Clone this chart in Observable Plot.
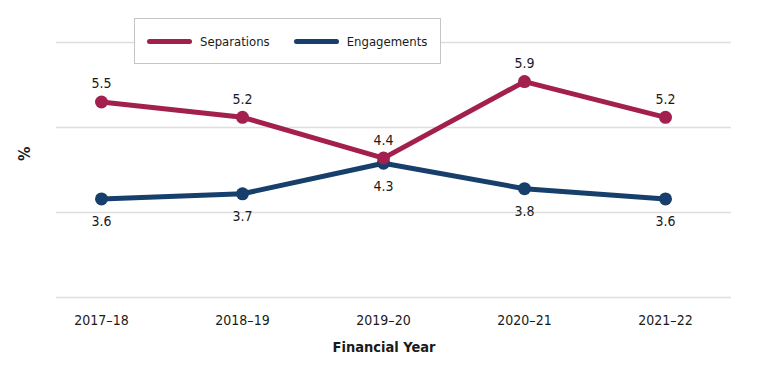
<!DOCTYPE html>
<html>
<head>
<meta charset="utf-8">
<script src="https://cdn.jsdelivr.net/npm/d3@7"></script>
<script src="https://cdn.jsdelivr.net/npm/@observablehq/plot@0.6"></script>
<style>
  html, body { margin: 0; padding: 0; background: #fff; }
  #wrap { position: relative; width: 768px; height: 391px; font-family: "Liberation Sans Narrow", "Arial Narrow", "DejaVu Sans Condensed", sans-serif; color: #1a1a1a; }
  #legend { position: absolute; left: 134px; top: 18px; width: 307px; height: 46px; border: 1px solid #c4c4c4; background: #fff; display: flex; align-items: center; padding-left: 12px; box-sizing: border-box; font-size: 13px; }
  .item { display: flex; align-items: center; margin-right: 24px; }
  .sw { width: 45px; height: 5px; border-radius: 3px; margin-right: 8px; }
</style>
</head>
<body>
<div id="wrap"></div>
<script>
const years = ["2017–18", "2018–19", "2019–20", "2020–21", "2021–22"];
const separations = [5.5, 5.2, 4.4, 5.9, 5.2];
const engagements = [3.6, 3.7, 4.3, 3.8, 3.6];
const seriesNames = ["Separations", "Engagements"];
const seriesColors = ["#a3204e", "#173f6b"];
const yGrid = [5 / 3, 10 / 3, 5, 20 / 3];
const xTitle = "Financial Year";
const yTitle = "%";

const sepRows = years.map((year, i) => ({ year, series: seriesNames[0], value: separations[i] }));
const engRows = years.map((year, i) => ({ year, series: seriesNames[1], value: engagements[i] }));

const font = '"Liberation Sans Narrow", "Arial Narrow", "DejaVu Sans Condensed", sans-serif';

const chart = Plot.plot({
  width: 768,
  height: 391,
  marginTop: 42,
  marginBottom: 94,
  marginLeft: 56,
  marginRight: 37,
  style: { fontFamily: font, fontSize: "14px", color: "#1a1a1a", background: "#fff", overflow: "visible" },
  x: { type: "point", domain: years, range: [100, 666], padding: 0, label: null, tickSize: 0, tickPadding: 18 },
  y: { domain: [yGrid[0], yGrid[yGrid.length - 1]], axis: null },
  color: { domain: seriesNames, range: seriesColors },
  marks: [
    Plot.ruleY(yGrid, { stroke: "#dedede", strokeWidth: 1.5 }),
    Plot.line(engRows, { x: "year", y: "value", stroke: "series", strokeWidth: 5 }),
    Plot.dot(engRows, { x: "year", y: "value", fill: "series", r: 6.5 }),
    Plot.line(sepRows, { x: "year", y: "value", stroke: "series", strokeWidth: 5 }),
    Plot.dot(sepRows, { x: "year", y: "value", fill: "series", r: 6.5 }),
    Plot.text(sepRows, { x: "year", y: "value", text: d => d.value.toFixed(1), dy: -18, fill: "#1a1a1a", fontSize: 14 }),
    Plot.text(engRows, { x: "year", y: "value", text: d => d.value.toFixed(1), dy: 23, fill: "#1a1a1a", fontSize: 14 }),
    Plot.text([yTitle], { frameAnchor: "left", dx: -32, dy: -9, rotate: -90, fontWeight: "bold", fontSize: 16, fill: "#1a1a1a" }),
    Plot.text([xTitle], { frameAnchor: "bottom", dy: 54, dx: -10, fontWeight: "bold", fontSize: 14.5, fill: "#1a1a1a" })
  ]
});

const wrap = document.getElementById("wrap");
wrap.appendChild(chart);

const legend = document.createElement("div");
legend.id = "legend";
seriesNames.forEach((name, i) => {
  const item = document.createElement("div");
  item.className = "item";
  const sw = document.createElement("span");
  sw.className = "sw";
  sw.style.background = seriesColors[i];
  const lab = document.createElement("span");
  lab.textContent = name;
  item.appendChild(sw);
  item.appendChild(lab);
  legend.appendChild(item);
});
wrap.appendChild(legend);
</script>
</body>
</html>
